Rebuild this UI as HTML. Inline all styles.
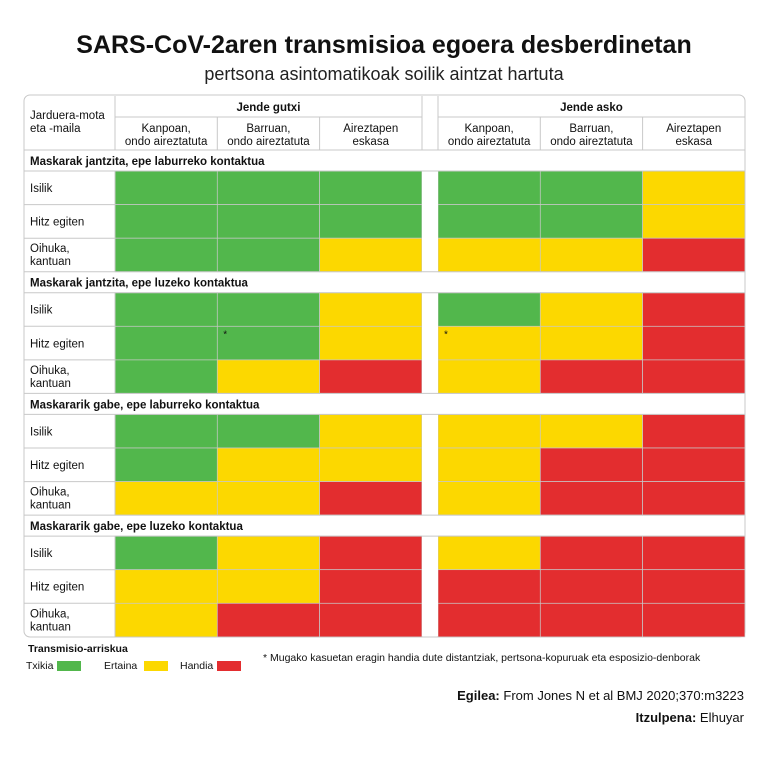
<!DOCTYPE html>
<html><head><meta charset="utf-8">
<style>
body{margin:0;background:#fff;width:768px;height:768px;overflow:hidden;font-family:"Liberation Sans",Arial,sans-serif}
svg text{font-family:"Liberation Sans",Arial,sans-serif}
</style></head>
<body>
<svg id="chart" width="768" height="768" xmlns="http://www.w3.org/2000/svg">
<text x="384" y="53" text-anchor="middle" font-size="25" font-weight="bold" fill="#111">SARS-CoV-2aren transmisioa egoera desberdinetan</text>
<text x="384" y="80" text-anchor="middle" font-size="18" fill="#222">pertsona asintomatikoak soilik aintzat hartuta</text>
<rect x="24" y="95" width="721" height="542" rx="6" fill="#fff" stroke="#c8c8c8"/>
<g id="cells"></g>
<g id="grid"></g>
<g id="labels" font-size="11.5" fill="#111"></g>
</svg>
<script>
const groups=["Jende gutxi","Jende asko"];
const conditions=[["Kanpoan,","ondo aireztatuta"],["Barruan,","ondo aireztatuta"],["Aireztapen","eskasa"]];
const sections=["Maskarak jantzita, epe laburreko kontaktua","Maskarak jantzita, epe luzeko kontaktua","Maskararik gabe, epe laburreko kontaktua","Maskararik gabe, epe luzeko kontaktua"];
const activities=[["Isilik"],["Hitz egiten"],["Oihuka,","kantuan"]];
// risk levels: 0 Txikia, 1 Ertaina, 2 Handia; per section, per activity, 6 columns
const risk=[
 [[0,0,0,0,0,1],[0,0,0,0,0,1],[0,0,1,1,1,2]],
 [[0,0,1,0,1,2],[0,0,1,1,1,2],[0,1,2,1,2,2]],
 [[0,0,1,1,1,2],[0,1,1,1,2,2],[1,1,2,1,2,2]],
 [[0,1,2,1,2,2],[1,1,2,2,2,2],[1,2,2,2,2,2]]
];
const asterisks=[[1,1,1],[1,1,3]]; // [section, activity, column]
const levelNames=["Txikia","Ertaina","Handia"];
const colors=["#52b74c","#fcd800","#e32d2f"];

const NS="http://www.w3.org/2000/svg";
function el(tag,attrs,parent,txt){const e=document.createElementNS(NS,tag);for(const k in attrs)e.setAttribute(k,attrs[k]);if(txt!=null)e.textContent=txt;parent.appendChild(e);return e;}
const colX=c=>c<3?115+c*102.3:438+(c-3)*102.3;
const colW=102.3;
const secY=s=>150+s*121.7;
const rowY=(s,a)=>secY(s)+21+a*33.6;
const rowH=33.6;
const cells=document.getElementById('cells'),grid=document.getElementById('grid'),labels=document.getElementById('labels'),svg=document.getElementById('chart');

groups.forEach((g,gi)=>{
 const x0=colX(gi*3);
 const t=el('text',{x:x0+colW*1.5,y:111,'text-anchor':'middle','font-weight':'bold'},labels,g);
 
 
 el('line',{x1:x0,x2:x0+colW*3,y1:117,y2:117,stroke:'#c8c8c8'},grid);
 conditions.forEach((c,ci)=>{
  const x=colX(gi*3+ci)+colW/2;
  const tt=el('text',{x:x,y:132,'text-anchor':'middle'},labels);
  
  
  el('tspan',{x:x},tt,c[0]);el('tspan',{x:x,dy:13},tt,c[1]);
 });
});
const h=el('text',{x:30,y:119},labels);


el('tspan',{x:30},h,'Jarduera-mota');el('tspan',{x:30,dy:13},h,'eta -maila');
el('rect',{x:422,y:96,width:16,height:540,fill:'#fff'},grid);
el('line',{x1:422,x2:422,y1:96,y2:150,stroke:'#c8c8c8'},grid);
el('line',{x1:438,x2:438,y1:96,y2:150,stroke:'#c8c8c8'},grid);
for(let c=0;c<6;c++){el('line',{x1:colX(c),x2:colX(c),y1:c%3==0?96:117,y2:150,stroke:'#c8c8c8'},grid);}
el('line',{x1:115,x2:115,y1:96,y2:150,stroke:'#c8c8c8'},grid);

sections.forEach((s,si)=>{
 const y=secY(si);
 el('line',{x1:24,x2:745,y1:y,y2:y,stroke:'#c8c8c8'},grid);
 el('line',{x1:24,x2:745,y1:y+21,y2:y+21,stroke:'#c8c8c8'},grid);
 el('line',{x1:115,x2:115,y1:y+21,y2:y+21+rowH*3,stroke:'#c8c8c8'},grid);
 const st=el('text',{x:30,y:y+15,'font-weight':'bold'},labels,s);
 
 
 activities.forEach((a,ai)=>{
  const ry=rowY(si,ai);
  if(ai>0)el('line',{x1:24,x2:115,y1:ry,y2:ry,stroke:'#c8c8c8'},grid);
  const at=el('text',{x:30,y:a.length>1?ry+14:ry+21},labels);
  
  
  a.forEach((l,li)=>el('tspan',{x:30,dy:li?13:0},at,l));
  risk[si][ai].forEach((v,ci)=>{
   const r=el('rect',{x:colX(ci),y:ry,width:colW,height:rowH,fill:colors[v],stroke:'#c8c8c8','stroke-width':0.7},cells);
   
   
  });
 });
});
asterisks.forEach(([s,a,c])=>{
 const t=el('text',{x:colX(c)+6,y:rowY(s,a)+11,'font-size':'10'},labels,'*');
 
 
});

const lt=el('text',{x:28,y:652,'font-size':'10.5','font-weight':'bold',fill:'#111'},svg,'Transmisio-arriskua');


const lx=[26,104,180];
levelNames.forEach((n,i)=>{
 const t=el('text',{x:lx[i],y:669,'font-size':'10.5',fill:'#111'},svg,n);
 
 
 const r=el('rect',{x:lx[i]+(i==0?31:i==1?40:37),y:661,width:24,height:10,fill:colors[i]},svg);
 
 
});
const fn=el('text',{x:263,y:661,'font-size':'10.5',fill:'#111'},svg,'* Mugako kasuetan eragin handia dute distantziak, pertsona-kopuruak eta esposizio-denborak');


const src=el('text',{x:744,y:700,'text-anchor':'end','font-size':'13',fill:'#111'},svg);


el('tspan',{'font-weight':'bold'},src,'Egilea:');el('tspan',{},src,' From Jones N et al BMJ 2020;370:m3223');
const tr=el('text',{x:744,y:722,'text-anchor':'end','font-size':'13',fill:'#111'},svg);


el('tspan',{'font-weight':'bold'},tr,'Itzulpena:');el('tspan',{},tr,' Elhuyar');
</script>
</body></html>
